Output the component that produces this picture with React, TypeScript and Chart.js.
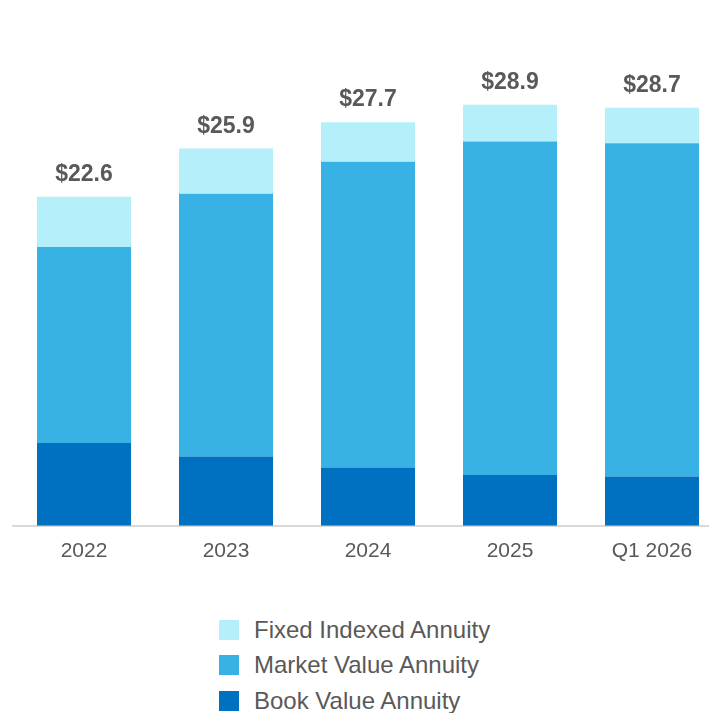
import React, { useEffect, useRef } from "react";
import { Chart, registerables } from "chart.js";

Chart.register(...registerables);

const categories = ["2022", "2023", "2024", "2025", "Q1 2026"];
const bookValue = [5.68, 4.75, 4.0, 3.48, 3.38];
const marketValue = [13.47, 18.05, 21.0, 22.9, 22.88];
const fixedIndexed = [3.45, 3.1, 2.7, 2.52, 2.44];
const totals = [22.6, 25.9, 27.7, 28.9, 28.7];

const seriesNames = ["Book Value Annuity", "Market Value Annuity", "Fixed Indexed Annuity"];
const seriesColors = ["#0070C0", "#38B2E5", "#B4EFFA"];

const FONT = "'Liberation Sans', Arial, sans-serif";
const TEXT = "#595959";

const totalsPlugin = {
  id: "totals",
  afterDatasetsDraw(chart: any) {
    const ctx = chart.ctx;
    const last = chart.getDatasetMeta(chart.data.datasets.length - 1);
    ctx.save();
    ctx.font = `bold 23px ${FONT}`;
    ctx.fillStyle = TEXT;
    ctx.textAlign = "center";
    ctx.textBaseline = "alphabetic";
    last.data.forEach((el: any, i: number) => {
      ctx.fillText(`$${totals[i].toFixed(1)}`, el.x, el.y - 16);
    });
    ctx.restore();
  },
};

export default function App() {
  const ref = useRef<HTMLCanvasElement | null>(null);

  useEffect(() => {
    if (!ref.current) return;
    const values = [bookValue, marketValue, fixedIndexed];
    const chart = new Chart(ref.current, {
      type: "bar",
      data: {
        labels: categories,
        datasets: values.map((v, i) => ({
          label: seriesNames[i],
          data: v,
          backgroundColor: seriesColors[i],
          borderWidth: 0,
          barPercentage: 0.662,
          categoryPercentage: 1,
        })),
      },
      options: {
        animation: false,
        responsive: false,
        maintainAspectRatio: false,
        layout: { padding: { left: 13, right: 17, top: 0, bottom: 3 } },
        plugins: {
          legend: { display: false },
          tooltip: { enabled: false },
          title: { display: false },
        },
        scales: {
          x: {
            stacked: true,
            grid: { display: false, drawTicks: false },
            border: { display: true, color: "#D9D9D9", width: 2 },
            ticks: {
              padding: 13,
              color: TEXT,
              font: { family: FONT, size: 21 },
            },
          },
          y: {
            stacked: true,
            display: false,
            min: 0,
            max: 36.1,
          },
        },
      },
      plugins: [totalsPlugin],
    });
    return () => chart.destroy();
  }, []);

  const legendOrder = [2, 1, 0];

  return (
    <div
      style={{
        position: "fixed",
        left: 0,
        top: 0,
        width: 709,
        height: 713,
        overflow: "hidden",
        background: "#ffffff",
      }}
    >
      <canvas
        ref={ref}
        width={740}
        height={580}
        style={{ position: "absolute", left: 0, top: 0, width: 740, height: 580 }}
      />
      {legendOrder.map((idx, row) => (
        <div
          key={seriesNames[idx]}
          style={{
            position: "absolute",
            left: 219,
            top: 620 + row * 35.3,
            height: 20,
            display: "flex",
            alignItems: "center",
            whiteSpace: "nowrap",
          }}
        >
          <div style={{ width: 20, height: 20, background: seriesColors[idx] }} />
          <span
            style={{
              marginLeft: 15,
              fontFamily: FONT,
              fontSize: 24,
              lineHeight: "20px",
              color: TEXT,
            }}
          >
            {seriesNames[idx]}
          </span>
        </div>
      ))}
    </div>
  );
}
